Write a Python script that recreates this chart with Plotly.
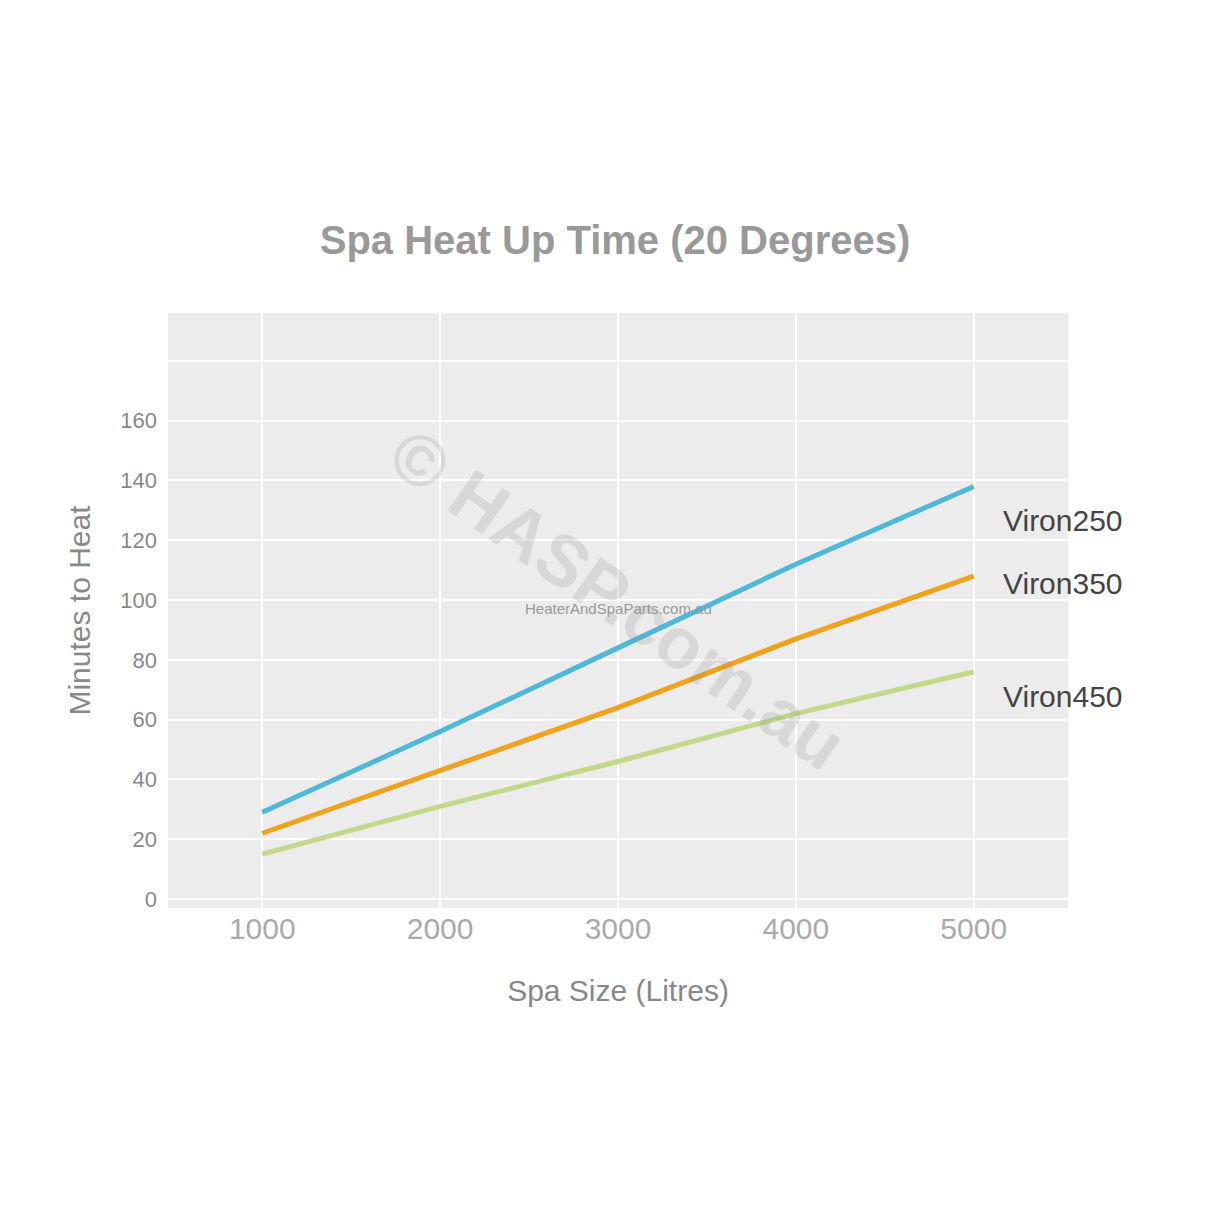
import plotly.graph_objects as go

spa_size = [1000, 2000, 3000, 4000, 5000]
viron250 = [29, 56, 84, 112, 138]
viron350 = [22, 43, 64, 87, 108]
viron450 = [15, 31, 46, 62, 76]
series = [("Viron250", viron250, "#4db8d8", 0.652),
          ("Viron350", viron350, "#f0a21a", 0.546),
          ("Viron450", viron450, "#c3d98a", 0.356)]
y_ticks = [0, 20, 40, 60, 80, 100, 120, 140, 160, 180]
y_labels = ["0", "20", "40", "60", "80", "100", "120", "140", "160", ""]

fig = go.Figure()
for name, vals, col, ly in series:
    fig.add_trace(go.Scatter(x=spa_size, y=vals, mode="lines", name=name,
                             line=dict(color=col, width=5)))
    fig.add_annotation(x=0.925, y=ly, xref="paper", yref="paper", xanchor="left",
                       text=name, showarrow=False,
                       font=dict(size=30, color="#444", family="Liberation Sans"))

fig.add_annotation(x=0.5, y=0.52, xref="paper", yref="paper", text="<b>© HASP.com.au</b>",
                   showarrow=False, textangle=35, opacity=0.2,
                   font=dict(size=72, color="#888", family="Liberation Sans"))
fig.add_annotation(x=0.5, y=0.504, xref="paper", yref="paper",
                   text="HeaterAndSpaParts.com.au", showarrow=False,
                   font=dict(size=15, color="#999", family="Liberation Sans"))

fig.update_layout(
    width=1214, height=1214, showlegend=False,
    paper_bgcolor="white", plot_bgcolor="#ececec",
    margin=dict(l=160, r=154, t=305, b=314),
    title=dict(text="<b>Spa Heat Up Time (20 Degrees)</b>", x=0.5, y=0.809,
               xanchor="center", yanchor="middle",
               font=dict(size=40, color="#999", family="Liberation Sans")),
    font=dict(family="Liberation Sans", color="#999"),
)
fig.update_xaxes(range=[470, 5530], tickvals=spa_size, showgrid=True, gridcolor="white",
                 gridwidth=2, zeroline=False, tickfont=dict(size=30, color="#aaa"),
                 title=dict(text="Spa Size (Litres)", standoff=35,
                            font=dict(size=30, color="#888")))
fig.update_yaxes(range=[-3, 196], tickvals=y_ticks, ticktext=y_labels, showgrid=True,
                 gridcolor="white", gridwidth=2, zeroline=False, ticklabelstandoff=10,
                 tickfont=dict(size=22, color="#888"),
                 title=dict(text="Minutes to Heat", standoff=20,
                            font=dict(size=30, color="#888")))
fig.write_html("out.html")
